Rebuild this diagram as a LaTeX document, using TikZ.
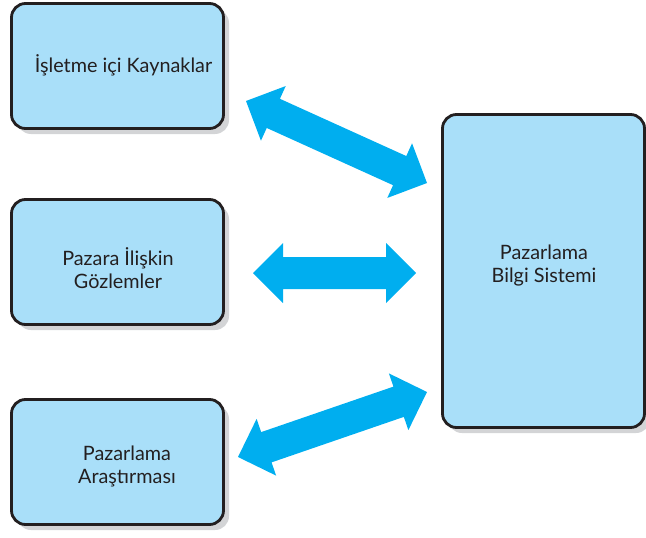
\documentclass[tikz,border=0pt]{standalone}
\usepackage{fontspec}
\setmainfont{Lato}
\usetikzlibrary{calc,shadows}

\definecolor{boxfill}{HTML}{A9DFF9}
\definecolor{boxline}{HTML}{231F20}
\definecolor{shadowgray}{HTML}{D3D4D6}
\definecolor{arrowblue}{HTML}{00AEEF}
\definecolor{textdark}{HTML}{231F20}

% Two-headed block arrow between two named points
\newcommand\blockarrowpair[2]{%
  \fill[arrowblue] let \p1=($(#2)-(#1)$), \n1={atan2(\y1,\x1)} in
    (#1)
    -- ($(#1)+(\n1:30pt)+(\n1+90:30pt)$)
    -- ($(#1)+(\n1:30pt)+(\n1+90:16pt)$)
    -- ($(#2)+(\n1:-30pt)+(\n1+90:16pt)$)
    -- ($(#2)+(\n1:-30pt)+(\n1+90:30pt)$)
    -- (#2)
    -- ($(#2)+(\n1:-30pt)+(\n1-90:30pt)$)
    -- ($(#2)+(\n1:-30pt)+(\n1-90:16pt)$)
    -- ($(#1)+(\n1:30pt)+(\n1-90:16pt)$)
    -- ($(#1)+(\n1:30pt)+(\n1-90:30pt)$)
    -- cycle;}

\begin{document}
\begin{tikzpicture}[x=1pt,y=-1pt,
  infobox/.style={draw=boxline, line width=2.8pt, fill=boxfill,
    rounded corners=14pt, inner sep=0pt,
    drop shadow={shadow xshift=5.5pt, shadow yshift=-5.5pt,
      fill=shadowgray, opacity=1}},
  smallbox/.style={infobox, minimum width=212pt, minimum height=125pt},
  boxlabel/.style={text=textdark, font=\fontsize{19.8}{23}\selectfont,
    align=center, inner sep=0pt}]
\useasboundingbox (0,0) rectangle (646,538);

% boxes
\node[smallbox] (src) at (117.5,66) {};
\node[smallbox] (obs) at (117.5,262) {};
\node[smallbox] (res) at (117.5,462) {};
\node[infobox, minimum width=202pt, minimum height=313pt] (mis) at (543.5,271) {};

% labels
\node[boxlabel] (srct) at (123.5,65) {İşletme içi Kaynaklar};
\node[boxlabel] (obst) at (118,268) {Pazara İlişkin\\Gözlemler};
\node[boxlabel] (rest) at (127,466) {Pazarlama\\Araştırması};
\node[boxlabel] (mist) at (544,266) {Pazarlama\\Bilgi Sistemi};

% arrow end points
\coordinate (a1) at (246,101);
\coordinate (b1) at (427,183);
\coordinate (a2) at (253,273);
\coordinate (b2) at (416,273);
\coordinate (a3) at (238,457);
\coordinate (b3) at (427,392);

\blockarrowpair{a1}{b1}
\blockarrowpair{a2}{b2}
\blockarrowpair{a3}{b3}
\end{tikzpicture}
\end{document}
